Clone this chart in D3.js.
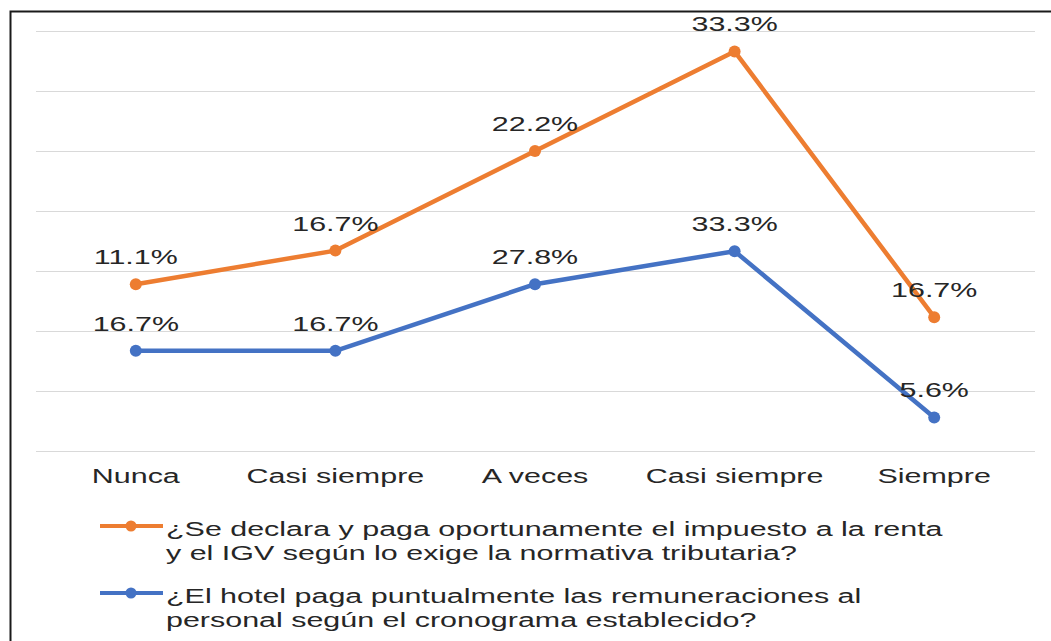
<!DOCTYPE html>
<html>
<head>
<meta charset="utf-8">
<script src="https://cdn.jsdelivr.net/npm/d3@7"></script>
<style>
  html, body { margin: 0; padding: 0; background: #fff; }
  svg { display: block; }
  text { font-family: "Liberation Sans", Arial, sans-serif; fill: #262626; }
</style>
</head>
<body>
<svg id="chart" width="1051" height="641"></svg>
<script>
// chart values
var categories = ["Nunca", "Casi siempre", "A veces", "Casi siempre", "Siempre"];
var serieDeclara = [11.1, 16.7, 22.2, 33.3, 16.7];   // orange
var serieHotel   = [16.7, 16.7, 27.8, 33.3, 5.6];    // blue
var yTicks = [0, 10, 20, 30, 40, 50, 60, 70];
var legendDeclara = ["¿Se declara y paga oportunamente el impuesto a la renta",
                     "y el IGV según lo exige la normativa tributaria?"];
var legendHotel = ["¿El hotel paga puntualmente las remuneraciones al",
                   "personal según el cronograma establecido?"];

var ORANGE = "#ED7D31", BLUE = "#4472C4";
var SX = 1.45;   // the picture is stretched sideways
var FS = 21;

var svg = d3.select("#chart");

// frame (only top and left edges are visible)
svg.append("path")
  .attr("d", "M10.5,641 L10.5,11.5 L1051,11.5")
  .attr("fill", "none").attr("stroke", "#1a1a1a").attr("stroke-width", 2);

var x = d3.scaleBand().domain(d3.range(categories.length)).range([36, 1034]);
var y = d3.scaleLinear().domain([0, 70]).range([451, 31]);
var cx = function(i){ return x(i) + x.bandwidth()/2; };

// gridlines
svg.append("g").selectAll("line").data(yTicks).enter().append("line")
  .attr("x1", 36).attr("x2", 1035)
  .attr("y1", function(d){ return Math.round(y(d)) + 0.5; })
  .attr("y2", function(d){ return Math.round(y(d)) + 0.5; })
  .attr("stroke", "#d9d9d9").attr("stroke-width", 1.2);

// stacked lines: blue bottom, orange on top
var rows = categories.map(function(c, i){ return {i: i, hotel: serieHotel[i], declara: serieDeclara[i]}; });
var stacked = d3.stack().keys(["hotel", "declara"])(rows);

var series = [
  {key: "hotel", color: BLUE, vals: serieHotel, pts: stacked[0]},
  {key: "declara", color: ORANGE, vals: serieDeclara, pts: stacked[1]}
];

var line = d3.line()
  .x(function(d){ return cx(d.data.i); })
  .y(function(d){ return y(d[1]); });

series.forEach(function(s){
  svg.append("path")
    .datum(s.pts)
    .attr("d", line)
    .attr("fill", "none")
    .attr("stroke", s.color)
    .attr("stroke-width", 4.5)
    .attr("stroke-linejoin", "round");
  svg.append("g").selectAll("circle").data(s.pts).enter().append("circle")
    .attr("cx", function(d){ return cx(d.data.i); })
    .attr("cy", function(d){ return y(d[1]); })
    .attr("r", 6)
    .attr("fill", s.color);
});

// stretched text helper
function sText(g, str, tx, ty, anchor){
  return g.append("text")
    .attr("transform", "translate(" + tx + "," + ty + ") scale(" + SX + ",1)")
    .attr("text-anchor", anchor || "middle")
    .attr("font-size", FS)
    .text(str);
}

// data labels
var lbl = svg.append("g");
series.forEach(function(s){
  s.pts.forEach(function(d, i){
    sText(lbl, s.vals[i].toFixed(1) + "%", cx(d.data.i), y(d[1]) - 20);
  });
});

// x axis
var xAxis = d3.axisBottom(x).tickSize(0).tickPadding(0)
  .tickFormat(function(i){ return categories[i]; });
var ax = svg.append("g").attr("transform", "translate(0,451)").call(xAxis);
ax.select(".domain").remove();
ax.selectAll("text")
  .attr("y", 32).attr("dy", null)
  .attr("font-size", FS)
  .attr("font-family", "Liberation Sans, Arial, sans-serif")
  .attr("fill", "#262626")
  .attr("transform", "scale(" + SX + ",1)");

// legend
var leg = svg.append("g");
[{c: ORANGE, lines: legendDeclara, y: 526}, {c: BLUE, lines: legendHotel, y: 593}].forEach(function(e){
  leg.append("line").attr("x1", 100).attr("x2", 163).attr("y1", e.y).attr("y2", e.y)
    .attr("stroke", e.c).attr("stroke-width", 4);
  leg.append("circle").attr("cx", 131).attr("cy", e.y).attr("r", 5.5).attr("fill", e.c);
  e.lines.forEach(function(s, k){
    sText(leg, s, 166, e.y + 10 + k * 23.6, "start");
  });
});
</script>
</body>
</html>
